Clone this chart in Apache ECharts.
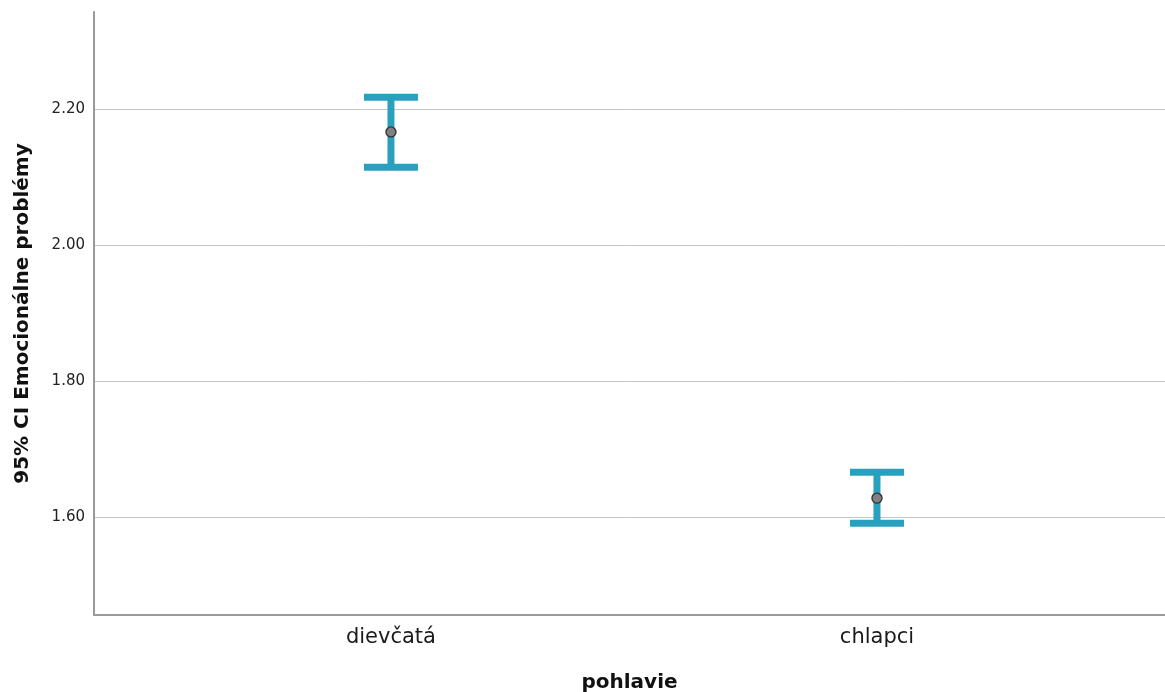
<!DOCTYPE html>
<html>
<head>
<meta charset="utf-8">
<script src="https://cdn.jsdelivr.net/npm/echarts@6/dist/echarts.min.js"></script>
<style>
html,body{margin:0;padding:0;background:#fff;}
#chart{width:1165px;height:692px;}
</style>
</head>
<body>
<div id="chart"></div>
<script>
const categories = ['dievčatá', 'chlapci'];
const means = [2.167, 1.628];
const lowerCI = [2.115, 1.591];
const upperCI = [2.218, 1.666];
const yTicks = [1.6, 1.8, 2.0, 2.2];
const xTitle = 'pohlavie';
const yTitle = '95% CI Emocionálne problémy';

const font = 'DejaVu Sans';
const barColor = '#29a0be';
const data = categories.map((c, i) => [i, lowerCI[i], upperCI[i], means[i]]);

const chart = echarts.init(document.getElementById('chart'), null, {renderer: 'canvas'});
chart.setOption({
  animation: false,
  backgroundColor: '#ffffff',
  grid: {left: 94, right: 0, top: 12, bottom: 77, containLabel: false, outerBoundsMode: 'none'},
  xAxis: {
    type: 'value',
    min: -0.611,
    max: 1.5926,
    name: xTitle,
    nameLocation: 'middle',
    nameGap: 58,
    nameTextStyle: {fontFamily: font, fontSize: 20, fontWeight: 'bold', color: '#111'},
    axisLine: {show: true, onZero: false, lineStyle: {color: '#9a9a9a', width: 2}},
    axisTick: {show: false, customValues: [0, 1]},
    splitLine: {show: false},
    axisLabel: {
      customValues: [0, 1],
      margin: 12,
      fontFamily: font, fontSize: 21, color: '#1a1a1a',
      formatter: v => categories[Math.round(v)]
    }
  },
  yAxis: {
    type: 'value',
    min: 1.456,
    max: 2.3435,
    name: yTitle,
    nameLocation: 'middle',
    nameGap: 61,
    nameTextStyle: {fontFamily: font, fontSize: 20, fontWeight: 'bold', color: '#111'},
    axisLine: {show: true, onZero: false, lineStyle: {color: '#9a9a9a', width: 2}},
    axisTick: {show: false, customValues: yTicks},
    splitLine: {show: true, lineStyle: {color: '#c4c4c4', width: 1}},
    axisLabel: {
      customValues: yTicks,
      margin: 9,
      fontFamily: font, fontSize: 15, color: '#222',
      formatter: v => v.toFixed(2)
    }
  },
  series: [{
    type: 'custom',
    data: data,
    encode: {x: 0, y: [1, 2, 3]},
    renderItem: function (params, api) {
      const x = api.value(0);
      const lo = api.coord([x, api.value(1)]);
      const hi = api.coord([x, api.value(2)]);
      const m = api.coord([x, api.value(3)]);
      const half = 27;
      const st = {stroke: barColor, lineWidth: 7};
      return {
        type: 'group',
        children: [
          {type: 'line', shape: {x1: lo[0], y1: lo[1], x2: hi[0], y2: hi[1]}, style: st},
          {type: 'line', shape: {x1: hi[0] - half, y1: hi[1], x2: hi[0] + half, y2: hi[1]}, style: st},
          {type: 'line', shape: {x1: lo[0] - half, y1: lo[1], x2: lo[0] + half, y2: lo[1]}, style: st},
          {type: 'circle', shape: {cx: m[0], cy: m[1], r: 5}, style: {fill: '#808080', stroke: '#333', lineWidth: 1.4}}
        ]
      };
    }
  }]
});
</script>
</body>
</html>
